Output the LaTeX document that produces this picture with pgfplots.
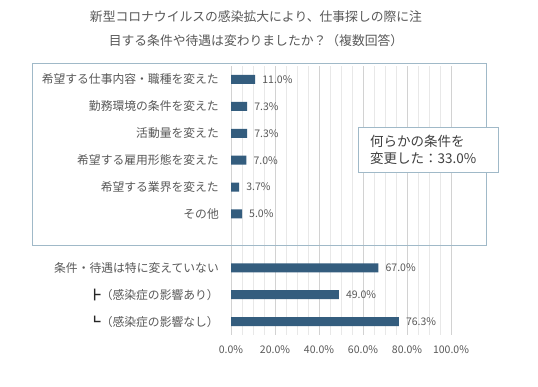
\documentclass[border=0pt]{standalone}
\usepackage{fontspec}
\setmainfont{Noto Sans CJK JP}
\usepackage{pgfplots}
\pgfplotsset{compat=1.18}
\definecolor{barc}{RGB}{52,93,126}
\definecolor{txt}{RGB}{89,89,89}
\definecolor{dtxt}{RGB}{64,64,64}
\definecolor{frm}{RGB}{160,185,200}
\definecolor{gmaj}{RGB}{210,210,210}
\definecolor{gmin}{RGB}{232,232,232}
\begin{document}
\begin{tikzpicture}
\path[use as bounding box] (0,0) rectangle (538bp,387bp);
\fill[white] (0,0) rectangle (538bp,387bp);
\begin{axis}[
  at={(231bp,52bp)}, anchor=south west,
  scale only axis, width=220bp, height=269bp,
  xmin=0, xmax=100, ymin=-0.5, ymax=9.5, y dir=reverse,
  xbar, bar width=9bp,
  axis line style={draw=none},
  xtick={0,20,...,100}, minor xtick={5,10,...,95},
  xmajorgrids, xminorgrids,
  major grid style={gmaj, line width=0.6bp},
  minor grid style={gmin, line width=0.6bp},
  major tick length=0pt, minor tick length=0pt,
  /pgf/number format/assume math mode=true,
  xticklabel={\pgfmathprintnumber[fixed,fixed zerofill,precision=1]{\tick}\%},
  xticklabel style={font=\fontsize{10.5bp}{12bp}\selectfont, text=txt, inner sep=0pt, yshift=-10bp},
  ytick={0,...,9},
  yticklabels={希望する仕事内容・職種を変えた, 勤務環境の条件を変えた, 活動量を変えた, 希望する雇用形態を変えた, 希望する業界を変えた, その他, {}, 条件・待遇は特に変えていない, {{\color{black!85}┣}（感染症の影響あり）}, {{\color{black!85}┗}（感染症の影響なし）}},
  yticklabel style={font=\fontsize{11.8bp}{12bp}\selectfont, text=txt, inner sep=0pt, xshift=-12bp},
  point meta=x,
  nodes near coords={\pgfmathprintnumber[fixed,fixed zerofill,precision=1]{\pgfplotspointmeta}\%},
  every node near coord/.append style={font=\fontsize{10.5bp}{12bp}\selectfont, text=txt, inner sep=0pt, xshift=7bp},
]
\addplot[draw=none, fill=barc] coordinates {
  (11.0,0) (7.3,1) (7.3,2) (7.0,3) (3.7,4) (5.0,5) (67.0,7) (49.0,8) (76.3,9)
};
\end{axis}
\draw[frm, line width=0.8bp] (32bp,142bp) rectangle (486bp,324bp);
\draw[frm, fill=white, line width=0.8bp] (358bp,215bp) rectangle (498bp,260bp);
\node[anchor=west, align=left, inner sep=0pt, text=dtxt, font=\fontsize{13.5bp}{17bp}\selectfont] at (370bp,237.5bp) {何らかの条件を\\変更した：33.0\%};
\node[align=center, inner sep=0pt, text=txt, font=\fontsize{12.8bp}{24bp}\selectfont] at (256bp,358bp) {新型コロナウイルスの感染拡大により、仕事探しの際に注\\目する条件や待遇は変わりましたか？（複数回答）};
\end{tikzpicture}
\end{document}
